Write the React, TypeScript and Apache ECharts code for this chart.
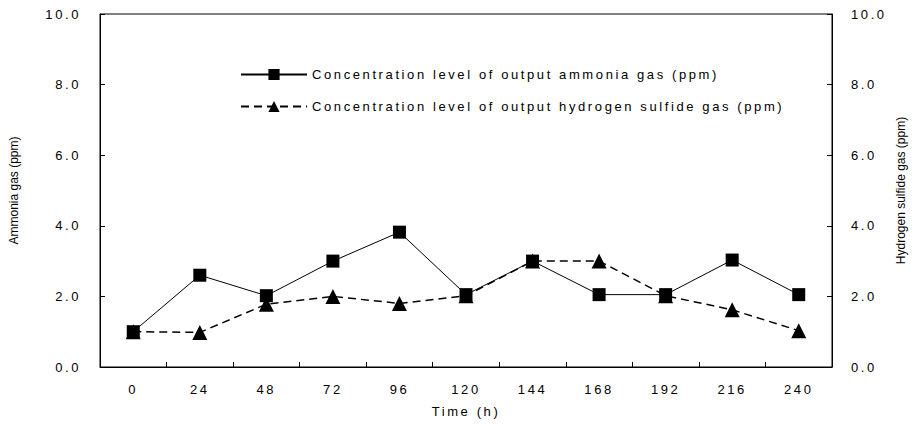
import React, { useEffect, useRef } from "react";
import * as echarts from "echarts";

const timeCategories = ["0", "24", "48", "72", "96", "120", "144", "168", "192", "216", "240"];
const ammoniaValues = [1.0, 2.6, 2.02, 3.0, 3.82, 2.05, 3.0, 2.05, 2.05, 3.03, 2.05];
const h2sValues = [1.0, 0.98, 1.78, 2.0, 1.8, 2.02, 3.0, 3.0, 2.02, 1.62, 1.03];
const ammoniaName = "Concentration level of output ammonia gas (ppm)";
const h2sName = "Concentration level of output hydrogen sulfide gas (ppm)";
const leftAxisName = "Ammonia gas (ppm)";
const rightAxisName = "Hydrogen sulfide gas (ppm)";
const xAxisName = "Time (h)";

const FONT = "Liberation Sans, Arial, sans-serif";

export default function App() {
  const ref = useRef<HTMLDivElement>(null);
  useEffect(() => {
    if (!ref.current) return;
    const chart = echarts.init(ref.current, undefined, { renderer: "svg" });
    const tickLabel = { color: "#000", fontFamily: FONT, fontSize: 13 };
    const yAxisCommon = {
      type: "value" as const,
      min: 0,
      max: 10,
      interval: 2,
      splitLine: { show: false },
      axisLine: { show: true, lineStyle: { color: "#000", width: 1 } },
      axisTick: { show: true, inside: true, length: 5, lineStyle: { color: "#000" } },
      nameLocation: "middle" as const,
      nameTextStyle: { color: "#000", fontFamily: FONT, fontSize: 12 },
    };
    chart.setOption({
      animation: false,
      backgroundColor: "#fff",
      grid: {
        left: 99,
        right: 84,
        top: 14,
        bottom: 61,
        show: true,
        borderColor: "#000",
        borderWidth: 1,
      },
      legend: {
        orient: "vertical",
        left: 240,
        top: 68,
        padding: 0,
        itemWidth: 66,
        itemHeight: 14,
        itemGap: 19,
        textStyle: { color: "#000", fontFamily: FONT, fontSize: 13 },
        data: [ammoniaName, h2sName],
      },
      xAxis: {
        type: "category",
        data: timeCategories,
        boundaryGap: true,
        name: xAxisName,
        nameLocation: "middle",
        nameGap: 38,
        nameTextStyle: { color: "#000", fontFamily: FONT, fontSize: 13 },
        axisLine: { show: true, lineStyle: { color: "#000", width: 1 } },
        axisTick: { show: true, inside: true, length: 5, lineStyle: { color: "#000" } },
        axisLabel: { ...tickLabel, margin: 16 },
      },
      yAxis: [
        {
          ...yAxisCommon,
          position: "left",
          name: leftAxisName,
          nameGap: 80,
          axisLabel: { ...tickLabel, margin: 19, formatter: (v: number) => v.toFixed(1) },
        },
        {
          ...yAxisCommon,
          position: "right",
          name: rightAxisName,
          nameGap: 63,
          axisLabel: { ...tickLabel, margin: 19, formatter: (v: number) => v.toFixed(1) },
        },
      ],
      series: [
        {
          name: ammoniaName,
          type: "line",
          yAxisIndex: 0,
          data: ammoniaValues,
          symbol: "rect",
          symbolSize: 13,
          itemStyle: { color: "#000" },
          lineStyle: { color: "#000", width: 1, type: "solid" },
          z: 3,
        },
        {
          name: h2sName,
          type: "line",
          yAxisIndex: 1,
          data: h2sValues,
          symbol: "triangle",
          symbolSize: 15,
          itemStyle: { color: "#000" },
          lineStyle: { color: "#000", width: 1.5, type: [8, 5] },
          z: 2,
        },
      ],
    });
    const fix = () => {
      const texts = ref.current?.querySelectorAll("text") || [];
      texts.forEach((t) => {
        const c = t.textContent || "";
        if (c === leftAxisName || c === rightAxisName) {
          (t as SVGTextElement).style.letterSpacing = "0px";
        }
      });
    };
    fix();
    chart.on("finished", fix);
    return () => chart.dispose();
  }, []);
  return (
    <div className="lsp">
      <style>{".lsp svg text { letter-spacing: 2.6px; }"}</style>
      <div
        ref={ref}
        style={{ position: "fixed", left: 0, top: 0, width: 916, height: 428 }}
      />
    </div>
  );
}
